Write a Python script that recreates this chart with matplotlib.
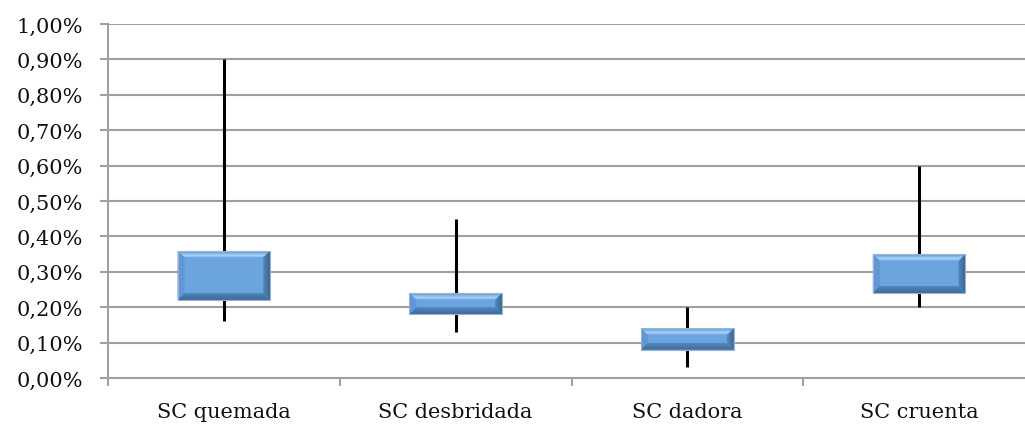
import numpy as np
import matplotlib
matplotlib.use("Agg")
import matplotlib.pyplot as plt
from matplotlib.patches import Polygon
from matplotlib.colors import LinearSegmentedColormap
from matplotlib.ticker import FuncFormatter, FixedLocator

# Data (percent)
categories = ["SC quemada", "SC desbridada", "SC dadora", "SC cruenta"]
whisker_low = [0.16, 0.13, 0.03, 0.20]
whisker_high = [0.90, 0.45, 0.20, 0.60]
box_low = [0.22, 0.18, 0.08, 0.24]
box_high = [0.36, 0.24, 0.14, 0.35]

plt.rcParams["font.family"] = ["DejaVu Serif"]

fig = plt.figure(figsize=(10.25, 4.27), dpi=100)
W, H = 1025, 427
ax = fig.add_axes([108 / W, (H - 379) / H, (1035 - 108) / W, (379 - 25) / H])

ax.set_xlim(-0.5, len(categories) - 0.5)
ax.set_ylim(0, 1.0)

grid_color = "#A0A0A0"
ax.set_yticks(np.arange(0, 1.0001, 0.1))
ax.yaxis.set_major_formatter(FuncFormatter(lambda v, p: f"{v:.2f}%".replace(".", ",")))
for yv in np.arange(0.1, 1.0001, 0.1):
    ax.axhline(yv, color=grid_color, lw=1.5, zorder=1)

for s in ["top", "right"]:
    ax.spines[s].set_visible(False)
for s in ["left", "bottom"]:
    ax.spines[s].set_color(grid_color)
    ax.spines[s].set_linewidth(1.5)

ax.tick_params(axis="y", length=6, width=1.5, color=grid_color, labelsize=15, pad=12,
               labelcolor="#111111")
# category boundary ticks, labels at category centers
ax.xaxis.set_major_locator(FixedLocator(np.arange(-0.5, len(categories) - 0.4, 1.0)))
ax.xaxis.set_major_formatter(FuncFormatter(lambda v, p: ""))
ax.xaxis.set_minor_locator(FixedLocator(np.arange(len(categories))))
ax.set_xticklabels(categories, minor=True)
ax.tick_params(axis="x", which="major", length=6, width=1.5, color=grid_color)
ax.tick_params(axis="x", which="minor", length=0, labelsize=15, pad=17, labelcolor="#111111")

# pixel -> data scale for the bevel size
px_x = len(categories) / (1035 - 108)
px_y = 1.0 / (379 - 25)
bev = 7

box_w = 0.4
face = "#6BA4DF"

cmap_top = LinearSegmentedColormap.from_list("top", ["#6EA6DF", "#ABD4F8", "#80B6EA", "#5E96D3"])
cmap_right = LinearSegmentedColormap.from_list("right", ["#5587BF", "#3A6797"])
cmap_bottom = LinearSegmentedColormap.from_list("bottom", ["#3D6A9B", "#5386BF"])


def gradient_fill(poly, extent, vertical, cmap):
    ax.add_patch(poly)
    data = np.linspace(0, 1, 32)
    data = data.reshape(-1, 1) if vertical else data.reshape(1, -1)
    im = ax.imshow(data, cmap=cmap, aspect="auto", extent=extent, origin="lower",
                   zorder=3, interpolation="bilinear")
    im.set_clip_path(poly)


def draw_box(xc, lo, hi):
    x0, x1 = xc - box_w / 2, xc + box_w / 2
    bx, by = bev * px_x, bev * px_y
    ix0, ix1, iy0, iy1 = x0 + bx, x1 - bx, lo + by, hi - by
    # face
    ax.add_patch(Polygon([(x0, lo), (x1, lo), (x1, hi), (x0, hi)],
                         closed=True, fc=face, ec="none", zorder=3))
    # top bevel
    gradient_fill(Polygon([(x0, hi), (x1, hi), (ix1, iy1), (ix0, iy1)], closed=True,
                          fc="none", ec="none", zorder=3),
                  (x0, x1, iy1, hi), True, cmap_top)
    # left bevel
    ax.add_patch(Polygon([(x0, lo), (ix0, iy0), (ix0, iy1), (x0, hi)], closed=True,
                         fc="#5F98D5", ec="none", zorder=3))
    # right bevel
    gradient_fill(Polygon([(x1, lo), (x1, hi), (ix1, iy1), (ix1, iy0)], closed=True,
                          fc="none", ec="none", zorder=3),
                  (ix1, x1, lo, hi), False, cmap_right)
    # bottom bevel
    gradient_fill(Polygon([(x0, lo), (x1, lo), (ix1, iy0), (ix0, iy0)], closed=True,
                          fc="none", ec="none", zorder=3),
                  (x0, x1, lo, iy0), True, cmap_bottom)
    # thin outline
    ax.add_patch(Polygon([(x0, lo), (x1, lo), (x1, hi), (x0, hi)], closed=True,
                         fc="none", ec="#9FB3C8", lw=0.8, zorder=4))


for i in range(len(categories)):
    # whiskers above and below the box
    ax.vlines(i, whisker_low[i], box_low[i], color="black", lw=2.2, zorder=2)
    ax.vlines(i, box_high[i], whisker_high[i], color="black", lw=2.2, zorder=2)
    draw_box(i, box_low[i], box_high[i])

ax.set_xlim(-0.5, len(categories) - 0.5)
ax.set_ylim(0, 1.0)

fig.savefig("out.png", dpi=100)
